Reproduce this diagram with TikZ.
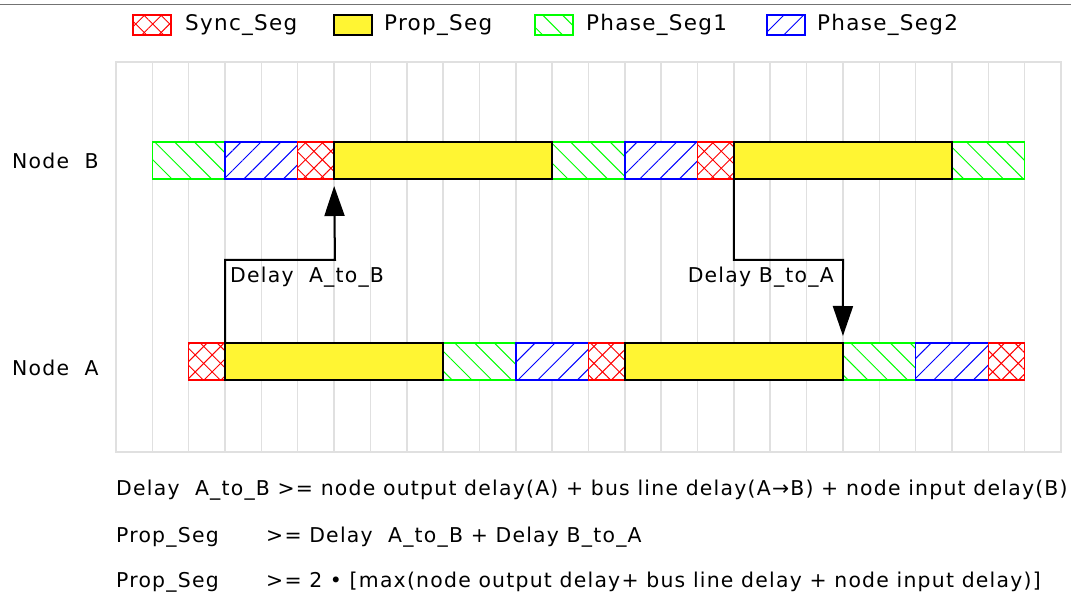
\documentclass[tikz,border=0pt]{standalone}
\usepackage{fontspec}
\setmainfont{DejaVu Sans}[LetterSpace=6]
\usetikzlibrary{arrows.meta, patterns.meta, positioning}

\newcommand{\colw}{36.346}

\begin{document}
\begin{tikzpicture}[x=1pt,y=-1pt,font=\fontsize{20.4}{24}\selectfont,
 gridline/.style={draw=black!12, line width=1.5pt},
 seg/.style={line width=1.5pt, inner sep=0pt, outer sep=0pt, minimum height=37pt, anchor=north west, preaction={fill=white}},
 sync seg/.style={seg, draw=red, preaction={pattern={Lines[angle=45,distance=12pt,line width=1pt]}, pattern color=red},
   pattern={Lines[angle=-45,distance=12pt,line width=1pt]}, pattern color=red},
 prop seg/.style={seg, draw=black, line width=2pt, fill=yellow!80!white},
 phase one/.style={seg, draw=green, pattern={Lines[angle=-45,distance=14pt,line width=1pt]}, pattern color=green},
 phase two/.style={seg, draw=blue, pattern={Lines[angle=45,distance=14pt,line width=1pt]}, pattern color=blue},
 key box/.style={minimum height=20pt, minimum width=38pt},
 key text/.style={inner sep=0pt, font=\fontsize{21.5}{24}\selectfont},
 txt/.style={inner sep=0pt, anchor=west},
 arr/.style={-{Triangle[length=30pt,width=20pt]}, line width=2pt, shorten >=7pt}]

  \useasboundingbox (0,0) rectangle (1071,601);
  \draw[black!55, line width=1.5pt] (0,4.5) -- (1071,4.5);

  % legend
  \node[sync seg, key box] (ksync) at (133,15) {};
  \node[prop seg, key box] (kprop) at (334,15) {};
  \node[phase one, key box] (kone) at (535,15) {};
  \node[phase two, key box] (ktwo) at (767,15) {};
  \node[right=14pt of ksync, key text] {Sync\_Seg};
  \node[right=12pt of kprop, key text] {Prop\_Seg};
  \node[right=13pt of kone, key text] {Phase\_Seg1};
  \node[right=12pt of ktwo, key text] {Phase\_Seg2};

  % time grid
  \draw[gridline] (116,62) rectangle (1061,452);
  \foreach \k in {1,...,25}
    \draw[gridline] ({116+\k*\colw},62) -- ++(0,390);

  \node[txt] (nodeb) at (12,161) {Node~~B};
  \node[txt] (nodea) at (12,368) {Node~~A};

  % bit timing of node B and node A
  \foreach \n/\k/\w/\s in {b1/1/2/phase one, b2/3/2/phase two, b3/5/1/sync seg, b5/12/2/phase one,
      b6/14/2/phase two, b7/16/1/sync seg, b9/23/2/phase one, b4/6/6/prop seg, b8/17/6/prop seg}
    \node[\s, minimum width=\w*\colw pt] (\n) at ({116+\k*\colw},142) {};
  \foreach \n/\k/\w/\s in {a1/2/1/sync seg, a3/9/2/phase one, a4/11/2/phase two, a5/13/1/sync seg,
      a7/20/2/phase one, a8/22/2/phase two, a9/24/1/sync seg, a2/3/6/prop seg, a6/14/6/prop seg}
    \node[\s, minimum width=\w*\colw pt] (\n) at ({116+\k*\colw},343) {};

  % delays
  \coordinate (ab) at (335,260);
  \coordinate (ba) at (843,260);
  \draw[arr] (a2.north west) |- (ab) -- (b4.south west);
  \draw[arr] (b8.south west) |- (ba) -- (a6.north east);
  \node[txt] (labab) at (230,277) {Delay~~A\_to\_B};
  \node[txt, anchor=east] (labba) at (834,277) {Delay B\_to\_A};

  % conditions
  \node[txt] (eq1) at (116,490) {Delay~~A\_to\_B >= node output delay(A) + bus line delay(A→B) + node input delay(B)};
  \node[txt] (eq2) at (116,537) {Prop\_Seg};
  \node[txt] (eq2r) at (266,537) {>= Delay~~A\_to\_B + Delay B\_to\_A};
  \node[txt] (eq3) at (116,582) {Prop\_Seg};
  \node[txt] (eq3r) at (266,582) {>= 2 • [max(node output delay+ bus line delay + node input delay)]};
\end{tikzpicture}
\end{document}
